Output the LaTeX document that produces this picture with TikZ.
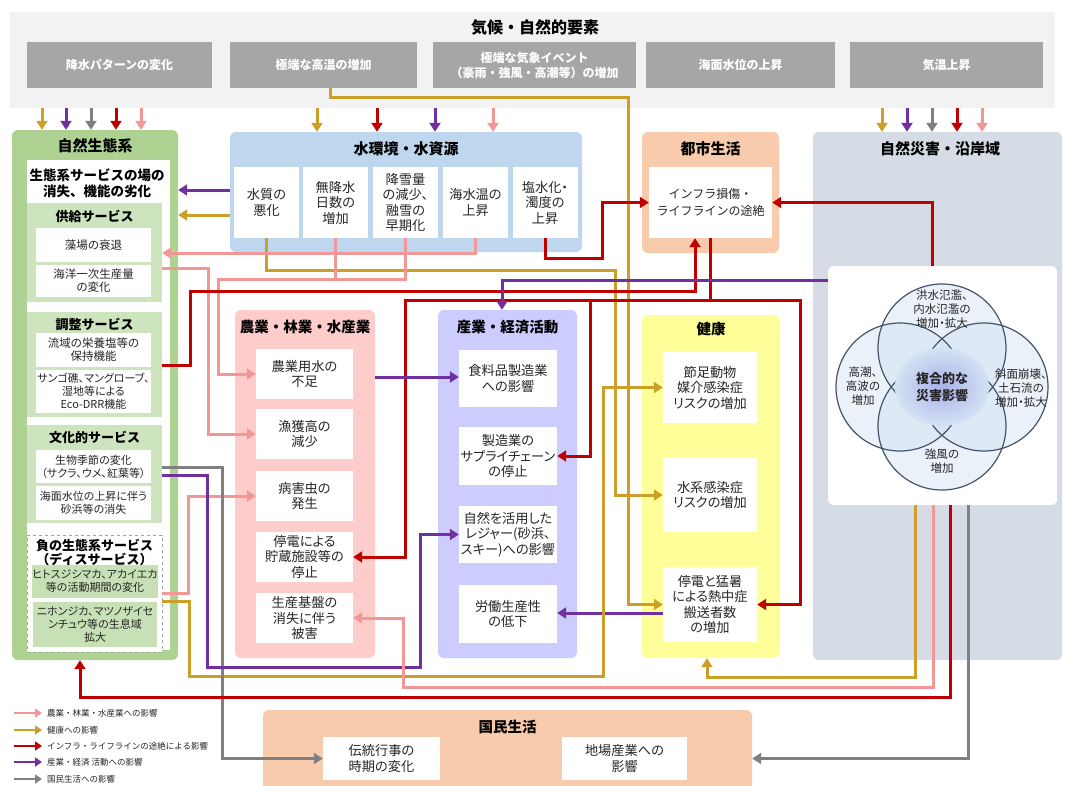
\documentclass[tikz,border=0pt]{standalone}
\usepackage{fontspec}
\setmainfont{Noto Sans CJK JP}
\newfontfamily\jpp{Noto Sans CJK JP}[RawFeature=+palt]
\usetikzlibrary{arrows.meta}

\definecolor{bandbg}{RGB}{242,242,242}
\definecolor{topG}{RGB}{166,166,166}
\definecolor{ecoG}{RGB}{174,210,146}
\definecolor{panelG}{RGB}{206,228,190}
\definecolor{negG}{RGB}{200,224,182}
\definecolor{waterB}{RGB}{190,215,238}
\definecolor{urbanP}{RGB}{248,203,173}
\definecolor{disG}{RGB}{214,220,229}
\definecolor{agriP}{RGB}{255,204,204}
\definecolor{indL}{RGB}{204,204,255}
\definecolor{healthY}{RGB}{255,255,153}
\definecolor{txt}{RGB}{38,38,38}
\definecolor{cpink}{RGB}{242,150,150}
\definecolor{cgold}{RGB}{204,160,40}
\definecolor{cred}{RGB}{192,0,0}
\definecolor{cpur}{RGB}{112,48,160}
\definecolor{cgray}{RGB}{128,128,128}
\definecolor{vline}{RGB}{68,84,106}
\definecolor{vfill}{RGB}{205,222,242}
\definecolor{glowC}{RGB}{172,176,232}
\definecolor{glowO}{RGB}{211,226,244}

\tikzset{
 frame/.style={rounded corners=6pt, draw=none, inner sep=0pt},
 wbox/.style={fill=white, inner sep=0pt, align=center, text=txt, font=\jpp\fontsize{13.2}{15.5}\selectfont},
 ebox/.style={fill=white, inner sep=0pt, align=center, text=txt, font=\jpp\fontsize{11.5}{13}\selectfont, minimum width=115pt},
 esmall/.style={font=\jpp\fontsize{11}{13}\selectfont},
 panel/.style={fill=panelG, inner sep=0pt, minimum width=135pt},
 negp/.style={fill=white, draw=black!35, dashed, line width=0.8pt, inner sep=0pt, minimum width=135pt},
 ttl/.style={font=\bfseries\fontsize{15}{17}\selectfont, text=black, inner sep=0pt},
 ttlb/.style={font=\bfseries\fontsize{14.5}{17}\selectfont, text=black, inner sep=0pt},
 ptl/.style={font=\bfseries\fontsize{13}{15}\selectfont, text=black, inner sep=0pt},
 hd/.style={font=\bfseries\fontsize{13.5}{16}\selectfont, text=black, inner sep=0pt, align=center},
 topbox/.style={fill=topG, inner sep=0pt, minimum height=46pt, align=center, text=white, font=\bfseries\fontsize{12}{15}\selectfont},
 conn/.style={line width=3pt, -{Triangle[length=9pt,width=11pt]}},
 plain/.style={line width=3pt},
 legarr/.style={line width=2.6pt, -{Triangle[length=7pt,width=9pt]}},
 leg/.style={font=\fontsize{8.5}{10}\selectfont, text=txt, inner sep=0pt, anchor=west},
 vc/.style={fill=vfill, fill opacity=0.4},
 vt/.style={font=\jpp\fontsize{11.5}{14}\selectfont, text=txt, align=center, inner sep=0pt},
}

\begin{document}
\begin{tikzpicture}[x=1pt,y=-1pt]
\useasboundingbox (0,0) rectangle (1065,785);
\fill[white] (0,0) rectangle (1065,785);

% ---------- top band ----------
\node[fill=bandbg, minimum width=1045pt, minimum height=96pt, inner sep=0pt] (climate) at (532.5,60) {};
\node[font=\bfseries\fontsize{16}{18}\selectfont, inner sep=0pt] (climateT) at (535,27) {気候・自然的要素};
\node[topbox, minimum width=185pt] (t1) at (119.5,65) {降水パターンの変化};
\node[topbox, minimum width=187pt] (t2) at (323.5,65) {極端な高温の増加};
\node[topbox, minimum width=203pt] (t3) at (534.5,65) {極端な気象イベント\\（豪雨・強風・高潮等）の増加};
\node[topbox, minimum width=189pt] (t4) at (740.5,65) {海面水位の上昇};
\node[topbox, minimum width=193pt] (t5) at (946.5,65) {気温上昇};

% ---------- natural ecosystem ----------
\node[frame, fill=ecoG, minimum width=166pt, minimum height=530pt] (eco) at (95,395) {};
\node[ttl] (ecoT) at (95,146) {自然生態系};
\node[fill=white, minimum width=143pt, minimum height=490pt, inner sep=0pt] (ecoW) at (98.5,405) {};
\node[hd] (ecoH) at (97,183.5) {生態系サービスの場の\\消失、機能の劣化};
\node[panel, minimum height=99pt] (p1) at (94.5,252.5) {};
\node[ptl] (p1T) at (94.5,216) {供給サービス};
\node[ebox, minimum height=34pt] (e1) at (93.5,245) {藻場の衰退};
\node[ebox, minimum height=32pt] (e2) at (93.5,281) {海洋一次生産量\\の変化};
\node[panel, minimum height=105pt] (p2) at (94.5,364.5) {};
\node[ptl] (p2T) at (94.5,324) {調整サービス};
\node[ebox, minimum height=34pt] (e3) at (93.5,350) {流域の栄養塩等の\\保持機能};
\node[ebox, esmall, minimum height=43pt] (e4) at (93.5,391.5) {サンゴ礁、マングローブ、\\湿地等による\\Eco-DRR機能};
\node[panel, minimum height=98pt] (p3) at (94.5,474) {};
\node[ptl] (p3T) at (94.5,437) {文化的サービス};
\node[ebox, esmall, minimum height=33pt] (e5) at (93.5,466.5) {生物季節の変化\\（サクラ、ウメ、紅葉等）};
\node[ebox, esmall, minimum height=34pt] (e6) at (93.5,503) {海面水位の上昇に伴う\\砂浜等の消失};
\node[negp, minimum height=117pt] (neg) at (94.5,593.5) {};
\node[hd, font=\bfseries\fontsize{13}{14}\selectfont] (negT) at (94.5,552) {負の生態系サービス\\（ディスサービス）};
\node[ebox, esmall, fill=negG, minimum width=124pt, minimum height=33pt] (e7) at (95,581.5) {ヒトスジシマカ、アカイエカ\\等の活動期間の変化};
\node[ebox, esmall, fill=negG, minimum width=124pt, minimum height=45pt] (e8) at (95,624.5) {ニホンジカ、マツノザイセ\\ンチュウ等の生息域\\拡大};

% ---------- water ----------
\node[frame, fill=waterB, minimum width=352pt, minimum height=120pt] (water) at (406,192) {};
\node[ttl] (waterT) at (406,149) {水環境・水資源};
\node[wbox, minimum width=65pt, minimum height=71pt] (w1) at (266.5,202.5) {水質の\\悪化};
\node[wbox, minimum width=65pt, minimum height=71pt] (w2) at (335.5,202.5) {無降水\\日数の\\増加};
\node[wbox, minimum width=65pt, minimum height=71pt] (w3) at (405.5,202.5) {降雪量\\の減少、\\融雪の\\早期化};
\node[wbox, minimum width=65pt, minimum height=71pt] (w4) at (475.5,202.5) {海水温の\\上昇};
\node[wbox, minimum width=65pt, minimum height=71pt] (w5) at (545,202.5) {塩水化・\\濁度の\\上昇};

% ---------- urban ----------
\node[frame, fill=urbanP, minimum width=137pt, minimum height=121pt] (urban) at (710.5,192.5) {};
\node[ttl] (urbanT) at (710.5,149) {都市生活};
\node[wbox, font=\fontsize{12}{17}\selectfont, minimum width=123pt, minimum height=71pt] (inf) at (710.5,202.5) {インフラ損傷・\\ライフラインの途絶};

% ---------- disasters ----------
\node[frame, fill=disG, minimum width=249pt, minimum height=528pt] (dis) at (937.5,396) {};
\node[ttl] (disT) at (940,149) {自然災害・沿岸域};
\node[frame, fill=white, minimum width=229pt, minimum height=239pt] (venn) at (942.5,385.5) {};
\fill[vc] (942,348) circle (64);
\fill[vc] (942,426) circle (64);
\fill[vc] (900,387) circle (64);
\fill[vc] (984,387) circle (64);
\draw[vline, line width=1.2pt] (942,348) circle (64) (942,426) circle (64) (900,387) circle (64) (984,387) circle (64);
\shade[inner color=glowC, outer color=glowO] (942,387) ellipse (47 and 39);
\node[vt] (vTop) at (942,309) {洪水氾濫、\\内水氾濫の\\増加・拡大};
\node[vt] (vLeft) at (863,386) {高潮、\\高波の\\増加};
\node[vt] (vRight) at (1021,388) {斜面崩壊、\\土石流の\\増加・拡大};
\node[vt] (vBot) at (942,461) {強風の\\増加};
\node[vt, font=\bfseries\fontsize{13}{17}\selectfont, text=black!85] (vC) at (942,387) {複合的な\\災害影響};

% ---------- agriculture ----------
\node[frame, fill=agriP, minimum width=140pt, minimum height=348pt] (agri) at (305,484) {};
\node[ttlb] (agriT) at (305,327) {農業・林業・水産業};
\node[wbox, minimum width=97pt, minimum height=50pt] (a1) at (304.5,374) {農業用水の\\不足};
\node[wbox, minimum width=97pt, minimum height=50pt] (a2) at (304.5,434) {漁獲高の\\減少};
\node[wbox, minimum width=97pt, minimum height=50pt] (a3) at (304.5,496) {病害虫の\\発生};
\node[wbox, minimum width=97pt, minimum height=50pt] (a4) at (304.5,557) {停電による\\貯蔵施設等の\\停止};
\node[wbox, minimum width=97pt, minimum height=50pt] (a5) at (304.5,618) {生産基盤の\\消失に伴う\\被害};

% ---------- industry ----------
\node[frame, fill=indL, minimum width=139pt, minimum height=348pt] (ind) at (507.5,484) {};
\node[ttlb] (indT) at (507.5,327) {産業・経済活動};
\node[wbox, minimum width=98pt, minimum height=57pt] (i1) at (508,378.5) {食料品製造業\\への影響};
\node[wbox, minimum width=98pt, minimum height=58pt] (i2) at (508,456) {製造業の\\サプライチェーン\\の停止};
\node[wbox, minimum width=98pt, minimum height=57pt] (i3) at (508,534.5) {自然を活用した\\レジャー(砂浜、\\スキー)への影響};
\node[wbox, minimum width=98pt, minimum height=58pt] (i4) at (508,614) {労働生産性\\の低下};

% ---------- health ----------
\node[frame, fill=healthY, minimum width=138pt, minimum height=343pt] (health) at (711,486.5) {};
\node[ttlb] (healthT) at (711,329) {健康};
\node[wbox, minimum width=94pt, minimum height=71pt] (h1) at (710,387.5) {節足動物\\媒介感染症\\リスクの増加};
\node[wbox, minimum width=94pt, minimum height=74pt] (h2) at (710,495) {水系感染症\\リスクの増加};
\node[wbox, minimum width=94pt, minimum height=75pt] (h3) at (710,604.5) {停電と猛暑\\による熱中症\\搬送者数\\の増加};

% ---------- national life ----------
\node[frame, fill=urbanP, minimum width=489pt, minimum height=90pt] (kok) at (507.5,755) {};
\node[ttlb] (kokT) at (507.5,727) {国民生活};
\node[wbox, minimum width=117pt, minimum height=43pt] (k1) at (381.5,758.5) {伝統行事の\\時期の変化};
\node[wbox, minimum width=125pt, minimum height=43pt] (k2) at (624.5,758.5) {地場産業への\\影響};

% ---------- short arrows from the climate band ----------
\draw[conn,cgold] (42,0 |- climate.south) -- (42,0 |- eco.north);
\draw[conn,cpur]  (66,0 |- climate.south) -- (66,0 |- eco.north);
\draw[conn,cgray] (91,0 |- climate.south) -- (91,0 |- eco.north);
\draw[conn,cred]  (116,0 |- climate.south) -- (116,0 |- eco.north);
\draw[conn,cpink] (141,0 |- climate.south) -- (141,0 |- eco.north);
\draw[conn,cgold] (317,0 |- climate.south) -- (317,0 |- water.north);
\draw[conn,cred]  (377,0 |- climate.south) -- (377,0 |- water.north);
\draw[conn,cpur]  (435,0 |- climate.south) -- (435,0 |- water.north);
\draw[conn,cpink] (493,0 |- climate.south) -- (493,0 |- water.north);
\draw[conn,cgold] (882,0 |- climate.south) -- (882,0 |- dis.north);
\draw[conn,cpur]  (907,0 |- climate.south) -- (907,0 |- dis.north);
\draw[conn,cgray] (932,0 |- climate.south) -- (932,0 |- dis.north);
\draw[conn,cred]  (957,0 |- climate.south) -- (957,0 |- dis.north);
\draw[conn,cpink] (982,0 |- climate.south) -- (982,0 |- dis.north);

% ---------- connectors ----------
\draw[conn,cpur]  (water.west |- 0,190) -- (eco.east |- 0,190);
\draw[conn,cgold] (water.west |- 0,215) -- (eco.east |- 0,215);
\draw[conn,cgold] (330,0 |- t2.south) |- (628,97) |- (h3.west);
\draw[conn,cgold] (w1.south) |- (615,270) |- (h2.west);
\draw[conn,cpink] (w4.south) |- (p1.east |- 0,253);
\draw[plain,cpink] (w2.south) -- (w2.south |- 0,279);
\draw[conn,cpink] (w3.south) |- (218,279) |- (a1.west);
\draw[conn,cpink] (p1.east |- 0,268) -| (208,0 |- a2.west) -- (a2.west);
\draw[conn,cred] (w5.south) |- (602,258) |- (inf.west);
\draw[conn,cred] (p2.east |- 0,365) -| (190,291) -| (695,0 |- inf.south);
\draw[conn,cred] (932,0 |- venn.north) |- (inf.east);
\coordinate (rj) at (590,300);
\draw[conn,cred] (inf.south) |- (405,300) |- (a4.east);
\draw[conn,cred] (rj) |- (i2.east);
\draw[conn,cred] (inf.south) |- (800,300) |- (h3.east);
\draw[conn,cpur] (venn.west |- 0,280) -| (502,0 |- ind.north);
\draw[conn,cpur] (agri.east |- 0,377) -- (i1.west |- 0,377);
\draw[conn,cpur] (h3.west |- 0,613) -- (i4.east |- 0,613);
\draw[conn,cpink] (neg.east |- 0,593) -| (188,0 |- a3.west) -- (a3.west);
\draw[conn,cgold] (neg.east |- 0,601) -| (189,676) -| (603,0 |- h1.west) -- (h1.west);
\draw[conn,cgray] (p3.east |- 0,467) -| (222,0 |- k1.west) -- (k1.west);
\draw[conn,cpur] (p3.east |- 0,475) -| (207,667) -| (420,0 |- i3.west) -- (i3.west);
\draw[conn,cgold] (915,0 |- venn.south) |- (707,677) -- (707,0 |- health.south);
\draw[conn,cpink] (933,0 |- venn.south) |- (403,687) |- (a5.east);
\draw[conn,cred] (950,0 |- venn.south) |- (80,697) -- (80,0 |- eco.south);
\draw[conn,cgray] (968,0 |- venn.south) |- (kok.east |- k2);

% ---------- legend ----------
\draw[legarr,cpink] (14,713) -- (42,713);
\node[leg] (l1) at (47,713) {農業・林業・水産業への影響};
\draw[legarr,cgold] (14,730) -- (42,730);
\node[leg] (l2) at (47,730) {健康への影響};
\draw[legarr,cred] (14,746) -- (42,746);
\node[leg] (l3) at (47,746) {インフラ・ライフラインの途絶による影響};
\draw[legarr,cpur] (14,762) -- (42,762);
\node[leg] (l4) at (47,762) {産業・経済 活動への影響};
\draw[legarr,cgray] (14,779) -- (42,779);
\node[leg] (l5) at (47,779) {国民生活への影響};
\end{tikzpicture}
\end{document}
